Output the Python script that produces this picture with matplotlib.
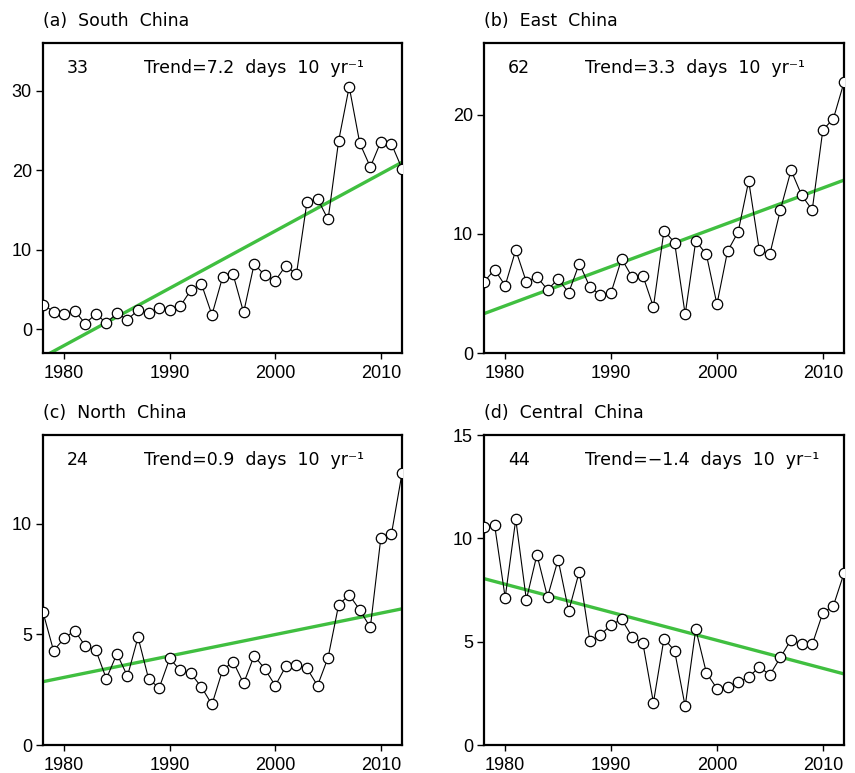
import numpy as np
import matplotlib
matplotlib.use("Agg")
import matplotlib.pyplot as plt

years = list(range(1978, 2013))

south = [3.1, 2.2, 1.9, 2.3, 0.7, 1.9, 0.8, 2.0, 1.2, 2.4, 2.0, 2.6, 2.4, 2.9, 4.9,
         5.7, 1.8, 6.5, 6.9, 2.1, 8.2, 6.8, 6.1, 8.0, 6.9, 16.0, 16.4, 13.8, 23.7,
         30.5, 23.4, 20.4, 23.6, 23.3, 20.2]
east = [5.96, 7.0, 5.65, 8.64, 5.96, 6.4, 5.3, 6.2, 5.06, 7.5, 5.54, 4.87, 5.06, 7.9,
        6.35, 6.5, 3.86, 10.27, 9.26, 3.24, 9.4, 8.28, 4.08, 8.53, 10.15, 14.43, 8.64,
        8.3, 12.03, 15.33, 13.23, 12.0, 18.7, 19.66, 22.7]
north = [6.0, 4.26, 4.81, 5.17, 4.47, 4.29, 2.99, 4.12, 3.11, 4.87, 2.99, 2.57, 3.91,
         3.37, 3.23, 2.62, 1.83, 3.37, 3.77, 2.78, 4.03, 3.44, 2.68, 3.56, 3.62, 3.46,
         2.68, 3.95, 6.33, 6.78, 6.1, 5.31, 9.37, 9.53, 12.27]
central = [10.55, 10.65, 7.13, 10.92, 7.03, 9.21, 7.16, 8.97, 6.48, 8.39, 5.02, 5.32,
           5.82, 6.08, 5.23, 4.94, 2.05, 5.15, 4.56, 1.87, 5.6, 3.5, 2.73, 2.82, 3.03,
           3.29, 3.77, 3.4, 4.24, 5.1, 4.89, 4.87, 6.39, 6.74, 8.31]

titles = ["(a)  South  China", "(b)  East  China", "(c)  North  China", "(d)  Central  China"]
counts = ["33", "62", "24", "44"]
trends = ["7.2", "3.3", "0.9", "\u22121.4"]
trend_years = [1978, 2012]
trend_a = [-3.5, 21.0]
trend_b = [3.3, 14.5]
trend_c = [2.86, 6.15]
trend_d = [8.05, 3.44]
ylims = [(-3, 36), (0, 26), (0, 14), (0, 15)]
yticks = [[0, 10, 20, 30], [0, 10, 20], [0, 5, 10], [0, 5, 10, 15]]
xticks = [1980, 1990, 2000, 2010]

series = [south, east, north, central]
trend_vals = [trend_a, trend_b, trend_c, trend_d]

W, H = 855, 773
fig = plt.figure(figsize=(W / 100, H / 100), dpi=100)

boxes = [(43, 43, 402, 353), (484, 43, 844, 353),
         (43, 435, 402, 745), (484, 435, 844, 745)]
title_y = [20.7, 20.7, 412.7, 412.7]

green = "#40bf40"
for i in range(4):
    l, t, r, b = boxes[i]
    ax = fig.add_axes([l / W, 1 - b / H, (r - l) / W, (b - t) / H])
    ax.plot(trend_years, trend_vals[i], color=green, lw=2.4, zorder=2,
            solid_capstyle="butt")
    ax.plot(years, series[i], color="black", lw=0.8, zorder=3,
            marker="o", ms=7.5, mfc="white", mec="black", mew=0.9)
    ax.set_xlim(1978, 2012)
    ax.set_ylim(*ylims[i])
    ax.set_xticks(xticks)
    ax.set_yticks(yticks[i])
    for s in ax.spines.values():
        s.set_linewidth(1.6)
    ax.tick_params(axis="y", direction="out", length=5, width=1, pad=3,
                   labelsize=13)
    ax.tick_params(axis="x", direction="out", length=4, width=1, pad=5,
                   labelsize=13)
    for lab in ax.get_xticklabels() + ax.get_yticklabels():
        lab.set_fontfamily("Liberation Sans")
    ax.text(0.067, 0.92, counts[i], transform=ax.transAxes, fontsize=12.5,
            ha="left", va="center")
    ax.text(0.28, 0.92, "Trend=" + trends[i] + "  days  10  yr\u207b\u00b9",
            transform=ax.transAxes, fontsize=12.5, ha="left", va="center")
    fig.text(l / W, 1 - title_y[i] / H, titles[i], fontsize=12.5,
             ha="left", va="center")

fig.savefig("out.png", dpi=100)
